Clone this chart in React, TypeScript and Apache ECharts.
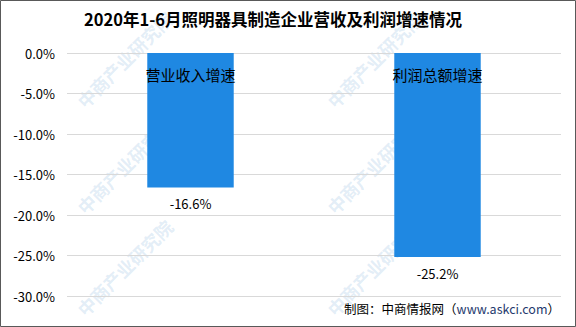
import React, { useEffect, useRef } from "react";
import * as echarts from "echarts";

const categories = ["营业收入增速", "利润总额增速"];
const growthValues = [-16.6, -25.2];
const yMin = -30;
const yMax = 0;
const yStep = 5;
const titleText = "2020年1-6月照明器具制造企业营收及利润增速情况";
const watermarkText = "中商产业研究院";
const watermarkSpots = [
  [80, 104], [80, 210], [80, 312],
  [330, 104], [330, 210], [330, 312],
];

export default function App() {
  const ref = useRef<HTMLDivElement>(null);

  useEffect(() => {
    if (!ref.current) return;
    const chart = echarts.init(ref.current, undefined, { renderer: "svg" });
    const font = "'Noto Sans CJK SC', 'Noto Sans', sans-serif";

    const watermarks = watermarkSpots.map(([x, y]) => ({
      type: "text",
      x,
      y,
      rotation: Math.PI / 4,
      silent: true,
      z: -10,
      style: {
        text: watermarkText,
        fill: "rgba(160,198,228,0.3)",
        font: `bold 18px ${font}`,
        textAlign: "left",
        textVerticalAlign: "middle",
      },
    }));

    chart.setOption({
      animation: false,
      backgroundColor: "#ffffff",
      textStyle: { fontFamily: font },
      title: {
        text: titleText,
        left: 84,
        top: 11,
        padding: 0,
        textStyle: { fontSize: 16.5, fontWeight: "bold", color: "#000", fontFamily: font },
      },
      grid: { left: 67, right: 15, top: 53, bottom: 31, containLabel: false },
      xAxis: {
        type: "category",
        data: categories,
        position: "top",
        z: 10,
        axisLine: { show: false },
        axisTick: { show: false },
        axisLabel: {
          inside: true,
          margin: 14,
          fontSize: 15,
          color: "#000",
          fontFamily: font,
        },
      },
      yAxis: {
        type: "value",
        min: yMin,
        max: yMax,
        interval: yStep,
        axisLine: { show: false },
        axisTick: { show: false },
        splitLine: { lineStyle: { color: "#d9d9d9", width: 1 } },
        axisLabel: {
          margin: 12,
          fontSize: 13,
          color: "#000",
          fontFamily: font,
          formatter: (v: number) => `${v.toFixed(1)}%`,
        },
      },
      series: [
        {
          type: "bar",
          data: growthValues,
          barWidth: "35%",
          itemStyle: { color: "#1f88e2" },
          label: {
            show: true,
            position: "bottom",
            distance: 10,
            fontSize: 13,
            color: "#000",
            fontFamily: font,
            formatter: (p: any) => `${p.value.toFixed(1)}%`,
          },
        },
      ],
      graphic: [
        ...watermarks,
        {
          type: "text",
          right: 16,
          top: 302,
          silent: true,
          style: {
            text: "{a|制图：中商情报网（}{b|www.askci.com}{a|）}",
            rich: {
              a: { fontSize: 12.5, fill: "#000", fontFamily: font },
              b: { fontSize: 12.5, fill: "#1f3a6e", fontFamily: font },
            },
          },
        },
        {
          type: "rect",
          silent: true,
          shape: { x: 0.5, y: 0.5, width: 575, height: 326 },
          style: { fill: "none", stroke: "#595959", lineWidth: 1 },
        },
      ],
    });

    return () => chart.dispose();
  }, []);

  return (
    <div
      ref={ref}
      style={{ position: "fixed", left: 0, top: 0, width: 576, height: 327 }}
    />
  );
}
